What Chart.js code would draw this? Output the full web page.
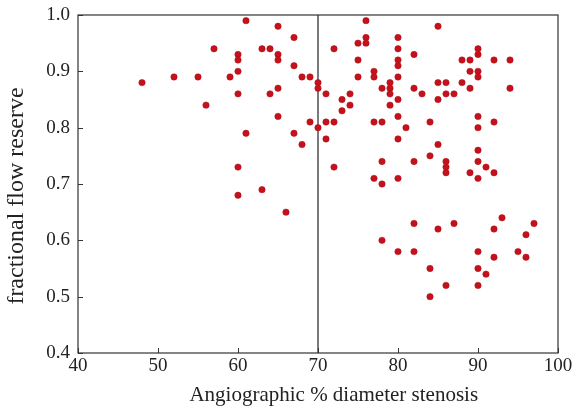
<!DOCTYPE html>
<html>
<head>
<meta charset="utf-8">
<script src="https://cdn.jsdelivr.net/npm/chart.js@4.4.0/dist/chart.umd.min.js"></script>
<style>
html,body{margin:0;padding:0;background:#fff;}
#wrap{width:574px;height:414px;}
</style>
</head>
<body>
<div id="wrap"><canvas id="c" width="574" height="414"></canvas></div>
<script>
// Angiographic % diameter stenosis (x) and fractional flow reserve (y)
const stenosis = [
  48,52,55,56,57,59,60,60,60,60,60,60,61,61,63,63,64,64,65,65,65,65,65,66,67,67,67,68,68,69,69,
  70,70,70,
  71,71,71,72,72,72,73,73,74,74,75,75,75,76,76,76,77,77,77,77,78,78,78,78,78,79,79,79,79,
  80,80,80,80,80,80,80,80,80,80,81,82,82,82,82,82,83,84,84,84,84,85,85,85,85,85,
  86,86,86,86,86,86,87,87,88,88,89,89,89,89,
  90,90,90,90,90,90,90,90,90,90,90,90,91,91,92,92,92,92,92,93,94,94,95,96,96,97
];
const ffr = [
  0.88,0.89,0.89,0.84,0.94,0.89,0.93,0.92,0.90,0.86,0.73,0.68,0.99,0.79,0.94,0.69,0.94,0.86,0.98,0.93,0.92,0.87,0.82,0.65,0.96,0.91,0.79,0.89,0.77,0.89,0.81,
  0.88,0.87,0.80,
  0.86,0.81,0.78,0.94,0.81,0.73,0.85,0.83,0.86,0.84,0.95,0.92,0.89,0.99,0.96,0.95,0.90,0.89,0.81,0.71,0.87,0.81,0.74,0.70,0.60,0.88,0.87,0.86,0.84,
  0.96,0.94,0.92,0.91,0.89,0.85,0.82,0.78,0.71,0.58,0.80,0.93,0.87,0.74,0.63,0.58,0.86,0.81,0.75,0.55,0.50,0.98,0.88,0.85,0.77,0.62,
  0.88,0.86,0.74,0.73,0.72,0.52,0.86,0.63,0.92,0.88,0.92,0.90,0.87,0.72,
  0.94,0.93,0.90,0.89,0.82,0.80,0.76,0.74,0.71,0.58,0.55,0.52,0.73,0.54,0.92,0.81,0.72,0.62,0.57,0.64,0.92,0.87,0.58,0.61,0.57,0.63
];
const cutoffX = [70, 70];
const cutoffY = [0.4, 1.0];
const xTicks = [40, 50, 60, 70, 80, 90, 100];
const yTicks = [0.4, 0.5, 0.6, 0.7, 0.8, 0.9, 1.0];

const serif = "'Liberation Serif','Times New Roman',serif";
const axisColor = '#333';

const frameAndTicks = {
  id: 'frameAndTicks',
  afterDatasetsDraw(chart) {
    const {ctx, chartArea: a, scales} = chart;
    ctx.save();
    ctx.strokeStyle = axisColor;
    ctx.lineWidth = 1.2;
    ctx.strokeRect(a.left, a.top, a.right - a.left, a.bottom - a.top);
    ctx.lineWidth = 1;
    ctx.beginPath();
    xTicks.forEach(v => {
      const px = Math.round(scales.x.getPixelForValue(v)) + 0.5;
      ctx.moveTo(px, a.bottom);
      ctx.lineTo(px, a.bottom - 5);
    });
    yTicks.forEach(v => {
      const py = Math.round(scales.y.getPixelForValue(v)) + 0.5;
      ctx.moveTo(a.left, py);
      ctx.lineTo(a.left + 5, py);
    });
    ctx.stroke();
    ctx.restore();
  }
};

new Chart(document.getElementById('c'), {
  type: 'scatter',
  data: {
    datasets: [
      {
        data: stenosis.map((x, i) => ({x, y: ffr[i]})),
        backgroundColor: '#c4121c',
        borderColor: '#b00c16',
        borderWidth: 0.5,
        pointRadius: 3.2,
        pointHoverRadius: 3.2
      },
      {
        type: 'line',
        data: cutoffX.map((x, i) => ({x, y: cutoffY[i]})),
        borderColor: '#222',
        borderWidth: 1.2,
        pointRadius: 0,
        fill: false
      }
    ]
  },
  options: {
    responsive: false,
    animation: false,
    events: [],
    layout: {padding: {left: 0, right: 16, top: 15, bottom: 0}},
    plugins: {legend: {display: false}, tooltip: {enabled: false}},
    scales: {
      x: {
        type: 'linear', min: 40, max: 100,
        afterBuildTicks(s) { s.ticks = xTicks.map(v => ({value: v})); },
        afterFit(s) { s.height = 61; s.paddingLeft = 0; s.paddingRight = 0; },
        ticks: {color: '#222', font: {family: serif, size: 19}, padding: 2, maxRotation: 0},
        grid: {display: true, drawOnChartArea: false, drawTicks: false, color: 'rgba(0,0,0,0)'},
        border: {display: false},
        title: {display: true, text: '      Angiographic % diameter stenosis', color: '#222',
                font: {family: serif, size: 21}, padding: {top: 0, bottom: 6}}
      },
      y: {
        type: 'linear', min: 0.4, max: 1.0,
        afterBuildTicks(s) { s.ticks = yTicks.map(v => ({value: v})); },
        afterFit(s) { s.width = 78; s.paddingTop = 0; s.paddingBottom = 0; },
        ticks: {color: '#222', font: {family: serif, size: 19}, padding: 8,
                callback: v => Number(v).toFixed(1)},
        grid: {display: true, drawOnChartArea: false, drawTicks: false, color: 'rgba(0,0,0,0)'},
        border: {display: false},
        title: {display: true, text: 'fractional flow reserve    ', color: '#222',
                font: {family: serif, size: 24}, padding: {top: 2, bottom: 0}}
      }
    }
  },
  plugins: [frameAndTicks]
});
</script>
</body>
</html>
